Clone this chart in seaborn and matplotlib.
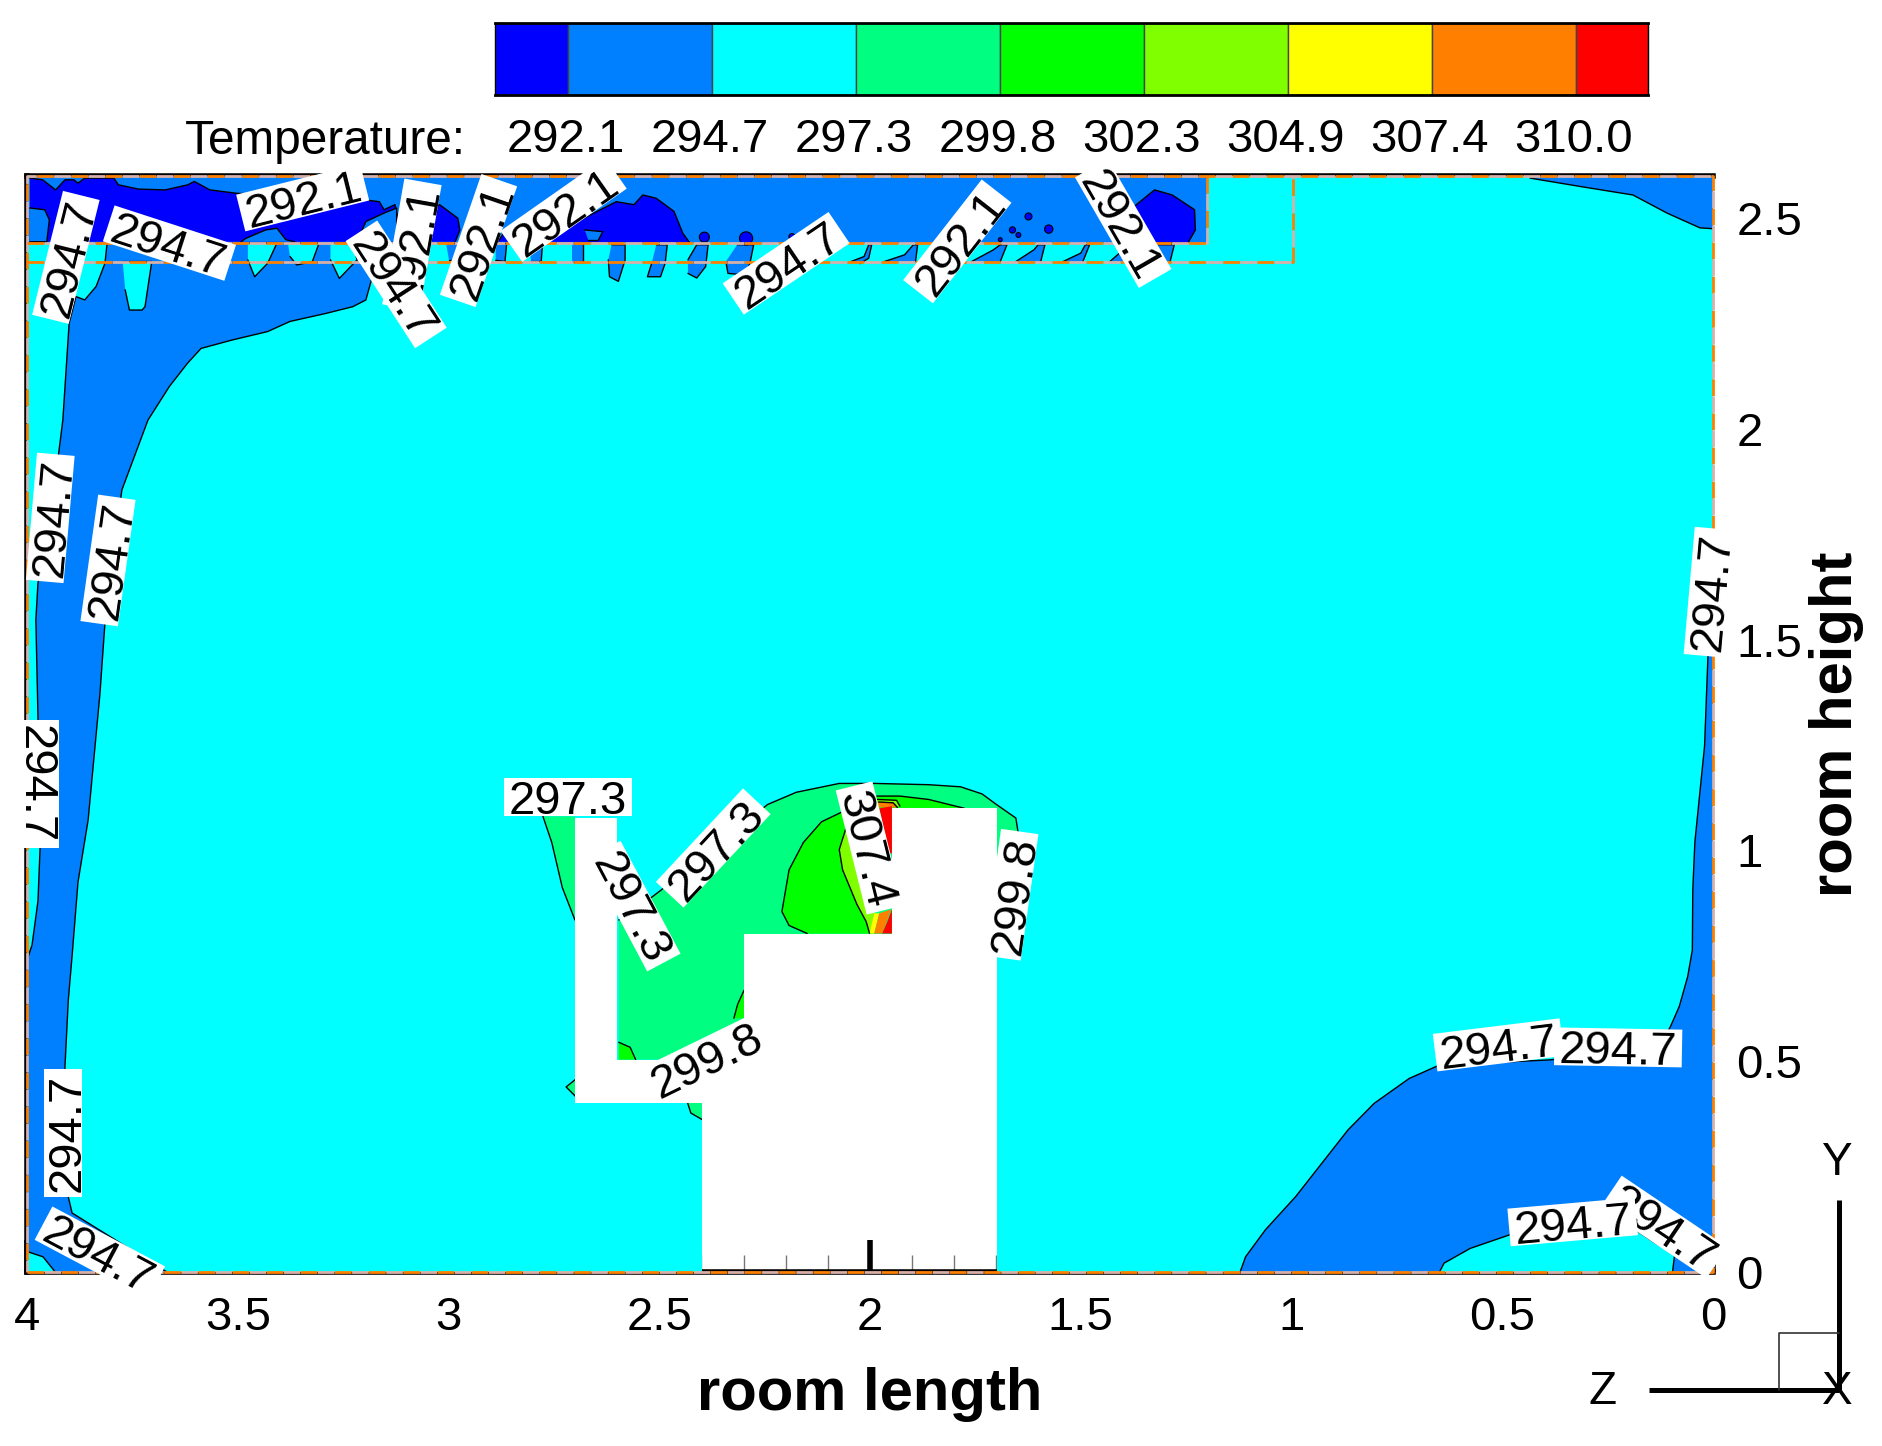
import numpy as np
import matplotlib
matplotlib.use('Agg')
import matplotlib.pyplot as plt
from matplotlib.path import Path
import seaborn as sns

# contour levels and band colours
level_labels = ['292.1', '294.7', '297.3', '299.8', '302.3', '304.9', '307.4', '310.0']
band_colors = ['#0000ff', '#0080ff', '#00ffff', '#00ff80', '#00ff00', '#80ff00', '#ffff00', '#ff8000', '#ff0000']

x_ticks = [4, 3.5, 3, 2.5, 2, 1.5, 1, 0.5, 0]
x_minor = [3.9, 3.8, 3.7, 3.6, 3.4, 3.3, 3.2, 3.1, 2.9, 2.8, 2.7, 2.6, 2.4, 2.3, 2.2, 2.1,
           1.9, 1.8, 1.7, 1.6, 1.4, 1.3, 1.2, 1.1, 0.9, 0.8, 0.7, 0.6, 0.4, 0.3, 0.2, 0.1]
y_ticks = [0, 0.5, 1, 1.5, 2, 2.5]

# room geometry
room_len = 4.0
room_h = 2.6
body_x = [2.7, 2.6, 2.6, 2.3, 2.3, 1.948, 1.948, 1.698, 1.698, 2.399, 2.399, 2.7]
body_y = [1.077, 1.077, 0.504, 0.504, 0.803, 0.803, 1.100, 1.100, 0.0, 0.0, 0.402, 0.402]

# 294.7 band along the left wall and ceiling
band_x = [3.17, 3.17, 3.185, 3.196, 3.227, 3.291, 3.376, 3.429, 3.513, 3.587, 3.619, 3.662, 3.713, 3.775,
          3.815, 3.827, 3.855, 3.879, 3.893, 3.902, 3.91, 3.902, 3.893, 3.668]
band_y = [2.44, 2.40, 2.346, 2.306, 2.290, 2.274, 2.255, 2.231, 2.211, 2.191, 2.156, 2.101, 2.021, 1.855,
          1.54, 1.371, 1.072, 0.925, 0.75, 0.645, 0.486, 0.178, 0.14, 0.0]
ceil_x = [1.2, 1.2, 4.0, 4.0]
ceil_y = [2.44, 2.6, 2.6, 2.44]

sliver_x = [3.81, 3.815, 3.836, 3.863, 3.884, 3.90, 3.915, 3.926, 3.974, 3.979, 3.974, 3.969, 3.974, 3.988, 4.0]
sliver_y = [2.441, 2.393, 2.338, 2.306, 2.314, 2.251, 2.021, 1.933, 1.634, 1.547, 1.319, 1.004, 0.88, 0.776, 0.74]
corner_x = [3.998, 3.962, 3.933]
corner_y = [0.048, 0.036, 0.0]

finger0_x = [3.773, 3.704, 3.720, 3.727, 3.757, 3.767]
finger0_y = [2.397, 2.397, 2.290, 2.282, 2.282, 2.330]
finger1_x = [3.476, 3.407, 3.429, 3.460, 3.476]
finger1_y = [2.441, 2.441, 2.393, 2.361, 2.401]
finger2_x = [3.381, 3.307, 3.323, 3.360, 3.376]
finger2_y = [2.441, 2.441, 2.397, 2.389, 2.409]
finger3_x = [3.280, 3.227, 3.217, 3.259, 3.280]
finger3_y = [2.441, 2.441, 2.401, 2.357, 2.401]

# blue drips under the ceiling zone
drips_x = [[3.005, 2.973, 2.973, 3.000], [2.888, 2.862, 2.866, 2.888], [2.809, 2.777, 2.780, 2.804],
           [2.708, 2.682, 2.682, 2.708], [2.613, 2.581, 2.581, 2.597, 2.618, 2.621],
           [2.507, 2.481, 2.486, 2.497, 2.528, 2.518], [2.432, 2.411, 2.384, 2.390, 2.411, 2.432],
           [2.315, 2.276, 2.284, 2.294, 2.337, 2.342], [2.045, 2.014, 2.003, 1.996, 2.003, 2.024],
           [1.966, 1.918, 1.897, 1.887, 1.892], [1.759, 1.707, 1.691, 1.675, 1.691],
           [1.654, 1.611, 1.601, 1.585, 1.595], [1.542, 1.500, 1.489, 1.479, 1.495],
           [1.431, 1.399, 1.383, 1.278, 1.288]]
drips_y = [[2.44, 2.44, 2.40, 2.40], [2.44, 2.44, 2.397, 2.40], [2.44, 2.44, 2.397, 2.397],
           [2.44, 2.44, 2.397, 2.397], [2.437, 2.437, 2.401, 2.350, 2.361, 2.401],
           [2.437, 2.437, 2.393, 2.361, 2.361, 2.393], [2.401, 2.437, 2.437, 2.385, 2.358, 2.369],
           [2.437, 2.437, 2.397, 2.365, 2.369, 2.397], [2.397, 2.409, 2.437, 2.437, 2.405, 2.392],
           [2.397, 2.413, 2.437, 2.437, 2.397], [2.397, 2.425, 2.437, 2.437, 2.397],
           [2.397, 2.425, 2.437, 2.437, 2.397], [2.397, 2.417, 2.437, 2.437, 2.397],
           [2.397, 2.425, 2.437, 2.437, 2.397]]

# 292.1 pockets
dark1_x = [3.993, 3.963, 3.932, 3.910, 3.889, 3.879, 3.863, 3.794, 3.783, 3.736, 3.672, 3.619, 3.603, 3.566,
           3.503, 3.196, 3.164, 3.153, 3.127, 3.121, 3.021, 2.978, 2.973, 2.984]
dark1_y = [2.595, 2.591, 2.567, 2.591, 2.591, 2.583, 2.595, 2.595, 2.579, 2.569, 2.567, 2.579, 2.587, 2.567,
           2.559, 2.543, 2.539, 2.520, 2.532, 2.504, 2.532, 2.500, 2.472, 2.444]
inset1_x = [3.993, 3.958, 3.947, 3.953, 3.993]
inset1_y = [2.524, 2.520, 2.496, 2.444, 2.444]
inset2_x = [3.492, 3.481, 3.434, 3.407, 3.386, 3.365]
inset2_y = [2.444, 2.452, 2.472, 2.476, 2.449, 2.444]
inset3_x = [3.217, 3.196, 3.153, 3.123, 3.123]
inset3_y = [2.444, 2.492, 2.512, 2.524, 2.444]
dark2_x = [2.883, 2.869, 2.851]
dark2_y = [2.444, 2.464, 2.444]
dark3_x = [2.783, 2.687, 2.602, 2.560, 2.539, 2.507, 2.465, 2.444, 2.428]
dark3_y = [2.444, 2.496, 2.539, 2.532, 2.555, 2.547, 2.516, 2.464, 2.442]
inset4_x = [2.677, 2.634, 2.645, 2.668]
inset4_y = [2.472, 2.468, 2.447, 2.447]
dark4_x = [1.373, 1.325, 1.283, 1.230, 1.228, 1.246, 1.325]
dark4_y = [2.528, 2.567, 2.555, 2.520, 2.472, 2.441, 2.441]
dot_x = [2.393, 2.294, 2.185, 1.624, 1.576, 1.662, 1.648, 1.691]
dot_y = [2.455, 2.452, 2.456, 2.504, 2.474, 2.472, 2.460, 2.449]
dot_size = [90, 160, 30, 40, 60, 30, 16, 8]

# walls on the right and the floor
top_right_x = [0.434, 0.308, 0.19, 0.109, 0.031, 0.0]
top_right_y = [2.595, 2.574, 2.555, 2.512, 2.477, 2.475]
right_band_x = [0.0, 0.012, 0.02, 0.043, 0.048, 0.049, 0.060, 0.080, 0.101, 0.132, 0.390, 0.649, 0.721, 0.804,
                0.866, 0.928, 0.990, 1.062, 1.109, 1.122]
right_band_y = [1.75, 1.46, 1.248, 1.02, 0.906, 0.764, 0.701, 0.630, 0.582, 0.527, 0.503, 0.491, 0.459, 0.400,
                0.337, 0.258, 0.179, 0.100, 0.036, 0.0]
floor_x = [0.649, 0.638, 0.576, 0.483, 0.184, 0.142, 0.091, 0.096]
floor_y = [0.0, 0.021, 0.056, 0.088, 0.100, 0.072, 0.042, 0.0]

# warm plume around the body
plume_x = [2.596, 2.518, 2.497, 2.243, 2.175, 2.073, 1.988, 1.861, 1.785, 1.734, 1.700, 1.654, 1.648, 1.675, 1.70]
plume_y = [0.835, 0.889, 0.905, 1.109, 1.138, 1.159, 1.159, 1.156, 1.151, 1.134, 1.109, 1.077, 1.039, 0.970, 0.838]
plume_l_x = [2.776, 2.755, 2.730, 2.700]
plume_l_y = [1.081, 1.019, 0.912, 0.835]
blob1_x = [2.696, 2.721, 2.696]
blob1_y = [0.459, 0.439, 0.414]
blob2_x = [2.433, 2.425, 2.399]
blob2_y = [0.402, 0.377, 0.362]
hot1_x = [2.065, 2.115, 2.158, 2.192, 2.209, 2.192, 2.149]
hot1_y = [1.092, 1.068, 1.019, 0.954, 0.855, 0.822, 0.803]
hot2_x = [2.056, 2.073, 2.065, 2.031, 2.009, 2.001]
hot2_y = [1.056, 1.002, 0.954, 0.872, 0.831, 0.803]
head1_x = [1.984, 1.929, 1.861, 1.776]
head1_y = [1.129, 1.129, 1.121, 1.100]
head2_x = [1.984, 1.937, 1.929]
head2_y = [1.121, 1.119, 1.105]
head3_x = [1.98, 1.945, 1.935]
head3_y = [1.115, 1.113, 1.102]
red1_x = [1.978, 1.948, 1.948, 1.954]
red1_y = [1.100, 1.105, 0.993, 0.993]
fan_y_x = [2.001, 1.990, 1.978, 1.990]
fan_y_y = [0.803, 0.851, 0.851, 0.803]
fan_o_x = [1.990, 1.978, 1.950, 1.971]
fan_o_y = [0.803, 0.851, 0.860, 0.803]
fan_r_x = [1.971, 1.959, 1.948, 1.948]
fan_r_y = [0.803, 0.831, 0.860, 0.803]
arm_x = [2.299, 2.314, 2.323]
arm_y = [0.668, 0.635, 0.602]
seat_x = [2.596, 2.569, 2.556]
seat_y = [0.545, 0.533, 0.504]

# contour labels: text, x, y, angle
label_text = ['292.1', '292.1', '292.1', '292.1', '294.7', '294.7', '294.7', '294.7', '292.1', '292.1',
              '294.7', '294.7', '294.7', '294.7', '294.7', '297.3', '297.3', '297.3', '299.8', '307.4',
              '299.8', '294.7', '294.7', '294.7', '294.7', '294.7']
label_x = [3.346, 3.087, 2.929, 2.727, 3.662, 3.908, 3.124, 2.199, 1.793, 1.399,
           3.945, 3.808, 3.969, 3.915, 3.827, 2.717, 2.560, 2.372, 2.391, 2.001,
           1.666, 0.012, 0.509, 0.225, 0.116, 0.333]
label_y = [2.549, 2.437, 2.447, 2.520, 2.441, 2.407, 2.343, 2.393, 2.445, 2.488,
           1.789, 1.688, 1.158, 0.330, 0.045, 1.127, 0.868, 1.006, 0.508, 1.006,
           0.895, 1.613, 0.539, 0.533, 0.107, 0.119]
label_rot = [14, 80, 71, 35, -18, 76, -57, 34, 52, -60,
             85, 82, -90, 90, -28, 0, -62, 47, 26, -76,
             82, 85, 7, -1, -34, 5]

W, H = 1883, 1446
sns.set_theme(style='white')
plt.rcParams['font.family'] = ['Liberation Sans', 'DejaVu Sans']
palette = sns.color_palette(band_colors)
BLUE, MID, CYAN, SPRING, GREEN, LIME, YELLOW, ORANGE, RED = palette

fig = plt.figure(figsize=(W / 100, H / 100), dpi=100, facecolor='white')
ax = fig.add_axes([27 / W, 1 - 1272 / H, 1686 / W, 1096 / H])
ax.set_facecolor('white')
ax.set_xlim(room_len, 0)
ax.set_ylim(0, room_h)
ax.set_axisbelow(True)

# fills stop at the body so that the white shape is really empty
outer = [(0, 0), (room_len, 0), (room_len, room_h), (0, room_h), (0, 0)]
hole = list(zip(body_x, body_y)) + [(body_x[0], body_y[0])]
clip = Path.make_compound_path(Path(outer), Path(hole[::-1]))

z = [1]


def region(xs, ys, color, extra_x=(), extra_y=(), line=True):
    z[0] += 1
    for p in ax.fill(list(xs) + list(extra_x), list(ys) + list(extra_y), color=color, lw=0, zorder=z[0]):
        p.set_clip_path(clip, ax.transData)
    if line:
        n = len(ax.lines)
        sns.lineplot(x=list(xs), y=list(ys), sort=False, estimator=None, color='black', lw=1.0, ax=ax,
                     zorder=z[0] + 0.5)
        for l in ax.lines[n:]:
            l.set_clip_path(clip, ax.transData)


def label_box(x0, y0, width, height, mutation_size):
    # white box hugging the digits, no room kept for descenders
    px = 0.1 * mutation_size
    bottom = y0 + 0.17 * mutation_size
    top = bottom + 0.80 * mutation_size
    return Path([(x0 - px, bottom), (x0 + width + px, bottom), (x0 + width + px, top), (x0 - px, top),
                 (x0 - px, bottom)], closed=True)


region([0, room_len, room_len, 0], [0, 0, room_h, room_h], CYAN, line=False)

# left and ceiling band
region(band_x, band_y, MID, [room_len, room_len], [0, 2.44])
region(ceil_x, ceil_y, MID, line=False)
region(sliver_x, sliver_y, CYAN, [room_len], [2.441])
region(corner_x, corner_y, CYAN, [room_len], [0])
for fx, fy in [(finger0_x, finger0_y), (finger1_x, finger1_y), (finger2_x, finger2_y), (finger3_x, finger3_y)]:
    region(fx, fy, CYAN, [fx[0]], [fy[0]])
for dx, dy in zip(drips_x, drips_y):
    region(dx, dy, MID)

# 292.1 pockets
region(dark1_x, dark1_y, BLUE, [3.993], [2.444])
region(inset1_x, inset1_y, MID)
region(inset2_x, inset2_y, MID)
region(inset3_x, inset3_y, MID)
region(dark2_x, dark2_y, BLUE)
region(dark3_x, dark3_y, BLUE)
region(inset4_x, inset4_y, MID)
region(dark4_x, dark4_y, BLUE)
sns.scatterplot(x=dot_x, y=dot_y, size=dot_size, sizes=(8, 90), color=BLUE, edgecolor='black', linewidth=0.8,
                legend=False, ax=ax, zorder=z[0] + 1)
z[0] += 1

# right wall and floor
region(top_right_x, top_right_y, MID, [0, top_right_x[0]], [room_h, room_h])
region(right_band_x, right_band_y, MID, [0], [0])
region(floor_x, floor_y, CYAN)

# warm plume
region(plume_x, plume_y, SPRING, [1.70, 2.596], [0.504, 0.504])
region(plume_l_x, plume_l_y, SPRING, [2.7], [1.081])
region(blob1_x, blob1_y, SPRING)
region(blob2_x, blob2_y, SPRING, [2.399], [0.402])
region(hot1_x, hot1_y, GREEN, [1.99, 2.0], [0.803, 1.092])
region(hot2_x, hot2_y, LIME, [1.99, 1.99], [0.803, 1.056])
region(head1_x, head1_y, GREEN, [1.984], [1.100])
region(head2_x, head2_y, LIME, [1.984], [1.105])
region(head3_x, head3_y, ORANGE, [1.98], [1.102])
region(red1_x, red1_y, RED, line=False)
region(fan_y_x, fan_y_y, YELLOW, line=False)
region(fan_o_x, fan_o_y, ORANGE, line=False)
region(fan_r_x, fan_r_y, RED, line=False)
region(arm_x, arm_y, GREEN, [2.299], [0.602])
region(seat_x, seat_y, GREEN, [2.596], [0.504])


def zone_line(xs, ys):
    # orange and grey dashes of the zone borders
    for col, off in [('#d8b0a8', 6.15), ('#ff8000', 0)]:
        l, = ax.plot(xs, ys, color=col, lw=2, ls=(off, (6, 6.3)), zorder=50, clip_on=False)
        l.set_dash_capstyle('butt')


zone_line([4, 0, 0, 4, 4], [0, 0, 2.6, 2.6, 0])
zone_line([4, 1.2, 1.2], [2.44, 2.44, 2.6])
zone_line([4, 0.996, 0.996], [2.397, 2.397, 2.6])

for t, lx, ly, r in zip(label_text, label_x, label_y, label_rot):
    ax.text(lx, ly, t, rotation=r, rotation_mode='anchor', ha='center', va='center_baseline', fontsize=34,
            color='black', bbox=dict(boxstyle=label_box, fc='white', ec='none'), zorder=60, clip_on=False)

ax.set_xticks(x_ticks)
ax.set_xticklabels(['4', '3.5', '3', '2.5', '2', '1.5', '1', '0.5', '0'])
ax.set_xticks(x_minor, minor=True)
ax.tick_params(axis='x', which='major', direction='in', length=23, width=4, color='black', labelsize=34, pad=17,
               bottom=True, labelcolor='black')
ax.tick_params(axis='x', which='minor', direction='in', length=12, width=1, color='#777777', bottom=True)
ax.yaxis.tick_right()
ax.set_yticks(y_ticks)
ax.set_yticklabels(['0', '0.5', '1', '1.5', '2', '2.5'])
ax.tick_params(axis='y', which='major', length=0, labelsize=34, pad=17, labelcolor='black')
for lab in ax.get_xticklabels() + ax.get_yticklabels():
    lab.set_color('black')

sns.despine(ax=ax, right=True, top=False, left=False, bottom=False)
for side in ['left', 'bottom', 'top']:
    ax.spines[side].set_color('black')
    ax.spines[side].set_linewidth(4)
    ax.spines[side].set_zorder(0.6)

ax.set_xlabel('room length', fontsize=43, fontweight='bold', color='black', va='center')
ax.xaxis.set_label_coords(0.5, -0.112)
ax.yaxis.set_label_position('right')
ax.set_ylabel('room height', fontsize=43, fontweight='bold', color='black', rotation=90, va='center')
ax.yaxis.set_label_coords(1.0735, 0.5)

# colour legend
leg = fig.add_axes([495 / W, 1 - 95 / H, 1152.6 / W, 72 / H])
edges = [-0.51] + list(range(len(level_labels)))
widths = [0.51] + [1] * (len(level_labels) - 1) + [0.5]
leg.barh([0] * len(palette), widths, left=edges, height=1, color=palette, edgecolor='#444444', linewidth=1)
leg.set_xlim(-0.51, 7.5)
leg.set_ylim(-0.5, 0.5)
leg.set_yticks([])
leg.set_xticks(np.arange(len(level_labels)) - 0.015)
leg.set_xticklabels(level_labels)
leg.tick_params(axis='x', length=0, labelsize=34, pad=16.5, labelcolor='black')
for side in leg.spines:
    leg.spines[side].set_visible(True)
    leg.spines[side].set_color('black')
    leg.spines[side].set_linewidth(1 if side in ('left', 'right') else 2)
leg.text(-0.71, -1.14, 'Temperature:', fontsize=34.4, color='black', ha='right', va='center')

# orientation triad in pixel space
tri = fig.add_axes([0, 0, 1, 1])
tri.set_xlim(0, W)
tri.set_ylim(H, 0)
tri.axis('off')
tri.patch.set_alpha(0)
tri.plot([1839, 1839], [1200, 1390], color='black', lw=3.6, solid_capstyle='butt')
tri.plot([1649, 1839], [1390, 1390], color='black', lw=3.6, solid_capstyle='butt')
tri.plot([1779, 1779, 1839], [1390, 1333, 1333], color='#333333', lw=1.2)
tri.text(1836, 1163, 'Y', fontsize=33, color='black', ha='center', va='center')
tri.text(1603, 1392, 'Z', fontsize=33, color='black', ha='center', va='center')
tri.text(1837, 1392, 'X', fontsize=33, color='black', ha='center', va='center')

plt.savefig('out.png', dpi=100)
plt.close()
